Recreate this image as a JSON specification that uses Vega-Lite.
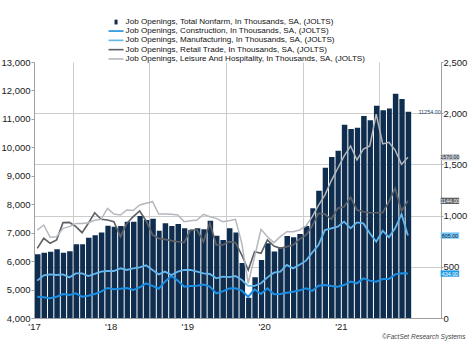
{
  "$schema": "https://vega.github.io/schema/vega-lite/v6.json",
  "width": 407,
  "height": 256,
  "autosize": {"type": "none"},
  "padding": {"left": 34, "top": 62, "right": 27, "bottom": 24},
  "background": "white",
  "data": {
    "format": {"parse": {"date": "date:'%Y-%m'"}},
    "values": [
      {"date":"2017-07","total":6240,"construction":208,"manufacturing":365,"retail":680,"leisure":859},
      {"date":"2017-08","total":6296,"construction":202,"manufacturing":417,"retail":778,"leisure":908},
      {"date":"2017-09","total":6330,"construction":192,"manufacturing":426,"retail":729,"leisure":788},
      {"date":"2017-10","total":6415,"construction":208,"manufacturing":420,"retail":762,"leisure":794},
      {"date":"2017-11","total":6296,"construction":234,"manufacturing":426,"retail":931,"leisure":876},
      {"date":"2017-12","total":6345,"construction":225,"manufacturing":397,"retail":934,"leisure":892},
      {"date":"2018-01","total":6590,"construction":241,"manufacturing":436,"retail":892,"leisure":924},
      {"date":"2018-02","total":6590,"construction":208,"manufacturing":436,"retail":833,"leisure":924},
      {"date":"2018-03","total":6825,"construction":218,"manufacturing":410,"retail":924,"leisure":931},
      {"date":"2018-04","total":6907,"construction":234,"manufacturing":430,"retail":1028,"leisure":955},
      {"date":"2018-05","total":7010,"construction":257,"manufacturing":453,"retail":964,"leisure":964},
      {"date":"2018-06","total":7245,"construction":293,"manufacturing":459,"retail":957,"leisure":1071},
      {"date":"2018-07","total":7210,"construction":280,"manufacturing":459,"retail":941,"leisure":1015},
      {"date":"2018-08","total":7230,"construction":286,"manufacturing":485,"retail":794,"leisure":1006},
      {"date":"2018-09","total":7385,"construction":293,"manufacturing":469,"retail":924,"leisure":1055},
      {"date":"2018-10","total":7385,"construction":273,"manufacturing":485,"retail":990,"leisure":1050},
      {"date":"2018-11","total":7587,"construction":300,"manufacturing":495,"retail":1045,"leisure":1104},
      {"date":"2018-12","total":7446,"construction":339,"manufacturing":514,"retail":950,"leisure":1120},
      {"date":"2019-01","total":7490,"construction":313,"manufacturing":469,"retail":811,"leisure":1136},
      {"date":"2019-02","total":7070,"construction":286,"manufacturing":426,"retail":778,"leisure":1015},
      {"date":"2019-03","total":7330,"construction":355,"manufacturing":453,"retail":768,"leisure":1015},
      {"date":"2019-04","total":7235,"construction":410,"manufacturing":420,"retail":755,"leisure":1012},
      {"date":"2019-05","total":7305,"construction":365,"manufacturing":453,"retail":745,"leisure":1006},
      {"date":"2019-06","total":7154,"construction":306,"manufacturing":469,"retail":736,"leisure":941},
      {"date":"2019-07","total":7094,"construction":313,"manufacturing":469,"retail":859,"leisure":950},
      {"date":"2019-08","total":7154,"construction":316,"manufacturing":453,"retail":859,"leisure":957},
      {"date":"2019-09","total":7120,"construction":326,"manufacturing":436,"retail":745,"leisure":1012},
      {"date":"2019-10","total":7420,"construction":306,"manufacturing":430,"retail":925,"leisure":989},
      {"date":"2019-11","total":6895,"construction":241,"manufacturing":387,"retail":713,"leisure":973},
      {"date":"2019-12","total":6740,"construction":260,"manufacturing":404,"retail":713,"leisure":941},
      {"date":"2020-01","total":7154,"construction":288,"manufacturing":400,"retail":745,"leisure":950},
      {"date":"2020-02","total":7010,"construction":290,"manufacturing":410,"retail":736,"leisure":964},
      {"date":"2020-03","total":5935,"construction":267,"manufacturing":371,"retail":615,"leisure":729},
      {"date":"2020-04","total":4714,"construction":208,"manufacturing":313,"retail":469,"leisure":339},
      {"date":"2020-05","total":5436,"construction":280,"manufacturing":313,"retail":648,"leisure":599},
      {"date":"2020-06","total":6040,"construction":234,"manufacturing":339,"retail":632,"leisure":866},
      {"date":"2020-07","total":6626,"construction":290,"manufacturing":397,"retail":762,"leisure":794},
      {"date":"2020-08","total":6338,"construction":231,"manufacturing":443,"retail":703,"leisure":736},
      {"date":"2020-09","total":6485,"construction":234,"manufacturing":453,"retail":680,"leisure":794},
      {"date":"2020-10","total":6883,"construction":247,"manufacturing":518,"retail":697,"leisure":843},
      {"date":"2020-11","total":6842,"construction":257,"manufacturing":485,"retail":713,"leisure":843},
      {"date":"2020-12","total":6954,"construction":270,"manufacturing":520,"retail":770,"leisure":860},
      {"date":"2021-01","total":7235,"construction":290,"manufacturing":560,"retail":810,"leisure":900},
      {"date":"2021-02","total":7857,"construction":265,"manufacturing":640,"retail":900,"leisure":990},
      {"date":"2021-03","total":8477,"construction":315,"manufacturing":713,"retail":1022,"leisure":1100},
      {"date":"2021-04","total":9286,"construction":322,"manufacturing":859,"retail":1015,"leisure":1200},
      {"date":"2021-05","total":9661,"construction":313,"manufacturing":876,"retail":964,"leisure":1340},
      {"date":"2021-06","total":9884,"construction":306,"manufacturing":892,"retail":1071,"leisure":1460},
      {"date":"2021-07","total":10797,"construction":322,"manufacturing":941,"retail":1087,"leisure":1580},
      {"date":"2021-08","total":10645,"construction":355,"manufacturing":876,"retail":1178,"leisure":1680},
      {"date":"2021-09","total":10692,"construction":339,"manufacturing":934,"retail":1055,"leisure":1543},
      {"date":"2021-10","total":11103,"construction":387,"manufacturing":924,"retail":1038,"leisure":1650},
      {"date":"2021-11","total":10950,"construction":365,"manufacturing":827,"retail":1028,"leisure":1680},
      {"date":"2021-12","total":11466,"construction":355,"manufacturing":745,"retail":1028,"leisure":1990},
      {"date":"2022-01","total":11302,"construction":381,"manufacturing":853,"retail":1028,"leisure":1700},
      {"date":"2022-02","total":11361,"construction":381,"manufacturing":788,"retail":1136,"leisure":1715},
      {"date":"2022-03","total":11888,"construction":426,"manufacturing":876,"retail":1266,"leisure":1640},
      {"date":"2022-04","total":11700,"construction":436,"manufacturing":1015,"retail":1045,"leisure":1500},
      {"date":"2022-05","total":11254,"construction":434,"manufacturing":805,"retail":1144,"leisure":1570}
    ]
  },
  "layer": [
    {
      "mark": {"type": "bar", "timeUnitBandSize": 0.86, "color": "#0f2e4f", "clip": true},
      "encoding": {
        "x": {"field": "date", "timeUnit": "yearmonth", "type": "temporal",
              "scale": {"domain": [{"year": 2017, "month": 7, "date": 1}, {"year": 2022, "month": 10, "date": 21}]},
              "axis": {"orient": "top", "values": [{"year": 2018, "month": 1, "date": 1}, {"year": 2019, "month": 1, "date": 1}, {"year": 2020, "month": 1, "date": 1}, {"year": 2021, "month": 1, "date": 1}, {"year": 2022, "month": 1, "date": 1}],
                       "grid": true, "labels": false, "ticks": false, "domain": false, "title": null}},
        "y": {"field": "total", "type": "quantitative", "scale": {"domain": [4000, 13000], "zero": false, "nice": false},
              "axis": {"orient": "left", "values": [4000, 5000, 6000, 7000, 8000, 9000, 10000, 11000, 12000, 13000], "format": ",.0f", "grid": false, "tickSize": 3, "labelPadding": 1, "labelOverlap": false, "title": null}},
        "color": {"datum": "Job Openings, Total Nonfarm, In Thousands, SA, (JOLTS)", "type": "nominal", "scale": {"range": ["#0f2e4f"]},
                  "legend": {"orient": "none", "legendX": 78, "legendY": -44, "title": null, "symbolType": "M-0.5,-0.8H0.5V0.8H-0.5Z", "symbolSize": 36, "labelFontSize": 8.1, "labelOffset": 5.5, "padding": 0, "labelLimit": 400, "labelColor": "#111111"}}
      }
    },
    {
      "transform": [{"filter": {"field": "date", "timeUnit": "yearmonth", "equal": {"year": 2022, "month": 5}}}],
      "mark": {"type": "text", "align": "right", "baseline": "middle", "dx": 33, "fontSize": 5.5, "color": "#27466b"},
      "encoding": {
        "x": {"field": "date", "timeUnit": "yearmonth", "type": "temporal", "bandPosition": 0.5,
              "scale": {"domain": [{"year": 2017, "month": 7, "date": 1}, {"year": 2022, "month": 10, "date": 21}]}, "axis": null},
        "y": {"field": "total", "type": "quantitative", "scale": {"domain": [4000, 13000], "zero": false, "nice": false}, "axis": null},
        "text": {"field": "total", "type": "quantitative", "format": ".2f"}
      }
    },
    {
      "transform": [{"fold": ["construction", "manufacturing", "retail", "leisure"], "as": ["series", "val"]}],
      "mark": {"type": "line"},
      "encoding": {
        "x": {"field": "date", "timeUnit": "yearmonth", "type": "temporal", "bandPosition": 0.5,
              "scale": {"domain": [{"year": 2017, "month": 7, "date": 1}, {"year": 2022, "month": 10, "date": 21}]},
              "axis": {"orient": "bottom", "zindex": 2, "values": [{"year": 2017, "month": 7, "date": 1}, {"year": 2018, "month": 7, "date": 1}, {"year": 2019, "month": 7, "date": 1}, {"year": 2020, "month": 7, "date": 1}, {"year": 2021, "month": 7, "date": 1}],
                       "labelExpr": "\"'\" + timeFormat(datum.value, '%y')", "grid": false, "ticks": false, "labelPadding": 3, "labelOverlap": false, "labelFlush": false, "labelBound": false, "domain": true,
                       "title": "©FactSet Research Systems", "titleAnchor": "end", "titleAlign": "right", "titleX": 431, "titleY": 20, "titleBaseline": "alphabetic",
                       "titleFontSize": 6.5, "titleFontStyle": "italic", "titleFontWeight": "normal", "titleColor": "#444444", "titleFont": "Liberation Sans"}},
        "y": {"field": "val", "type": "quantitative", "scale": {"domain": [0, 2500], "nice": false},
              "axis": {"orient": "right", "values": [0, 500, 1000, 1500, 2000, 2500], "format": ",.0f", "grid": true,
                       "gridOpacity": {"condition": {"test": "datum.value >= 2500 || datum.value <= 0", "value": 0}, "value": 1},
                       "tickSize": 2, "labelPadding": 0, "labelOverlap": false, "title": null}},
        "color": {"field": "series", "type": "nominal",
                  "scale": {"domain": ["construction", "manufacturing", "retail", "leisure"], "range": ["#1a8fe3", "#63b6ee", "#5d6166", "#b4b8bd"]},
                  "legend": {"orient": "none", "legendX": 78, "legendY": -35, "title": null, "symbolType": "M-2.5,0H2.5", "symbolSize": 36, "symbolStrokeWidth": 1.6,
                             "labelFontSize": 8.1, "labelOffset": 5.5, "rowPadding": 0.3, "padding": 0, "labelLimit": 400, "labelColor": "#111111",
                             "labelExpr": "datum.label == 'construction' ? 'Job Openings, Construction, In Thousands, SA, (JOLTS)' : datum.label == 'manufacturing' ? 'Job Openings, Manufacturing, In Thousands, SA, (JOLTS)' : datum.label == 'retail' ? 'Job Openings, Retail Trade, In Thousands, SA, (JOLTS)' : 'Job Openings, Leisure And Hospitality, In Thousands, SA, (JOLTS)'"}},
        "strokeWidth": {"field": "series", "type": "nominal", "scale": {"domain": ["construction", "manufacturing", "retail", "leisure"], "range": [2, 1.5, 1.3, 1.3]}, "legend": null}
      }
    },
    {
      "transform": [{"fold": ["construction", "manufacturing", "retail", "leisure"], "as": ["series", "val"]}, {"filter": {"field": "date", "timeUnit": "yearmonth", "equal": {"year": 2022, "month": 5}}}],
      "mark": {"type": "point", "shape": "M-1,-0.34H1V0.34H-1Z", "size": 342, "filled": true, "opacity": 1, "strokeWidth": 0, "xOffset": 42},
      "encoding": {
        "x": {"field": "date", "timeUnit": "yearmonth", "type": "temporal", "bandPosition": 0.5,
              "scale": {"domain": [{"year": 2017, "month": 7, "date": 1}, {"year": 2022, "month": 10, "date": 21}]}, "axis": null},
        "y": {"field": "val", "type": "quantitative", "scale": {"domain": [0, 2500], "nice": false}, "axis": null},
        "fill": {"field": "series", "type": "nominal", "scale": {"domain": ["construction", "manufacturing", "retail", "leisure"], "range": ["#1e9be8", "#74c4f5", "#5d6166", "#c2c5c9"]}, "legend": null}
      }
    },
    {
      "transform": [{"fold": ["construction", "manufacturing", "retail", "leisure"], "as": ["series", "val"]}, {"filter": {"field": "date", "timeUnit": "yearmonth", "equal": {"year": 2022, "month": 5}}}],
      "mark": {"type": "text", "fontSize": 5.3, "xOffset": 42, "align": "center", "baseline": "middle"},
      "encoding": {
        "x": {"field": "date", "timeUnit": "yearmonth", "type": "temporal", "bandPosition": 0.5,
              "scale": {"domain": [{"year": 2017, "month": 7, "date": 1}, {"year": 2022, "month": 10, "date": 21}]}, "axis": null},
        "y": {"field": "val", "type": "quantitative", "scale": {"domain": [0, 2500], "nice": false}, "axis": null},
        "text": {"field": "val", "type": "quantitative", "format": ".2f"},
        "color": {"condition": {"test": "datum.series == 'construction' || datum.series == 'retail'", "value": "#ffffff"}, "value": "#1a2a3a"}
      }
    }
  ],
  "resolve": {"scale": {"x": "independent", "y": "independent", "color": "independent"}, "axis": {"x": "independent", "y": "independent"}, "legend": {"color": "independent"}},
  "config": {
    "view": {"stroke": null},
    "font": "Liberation Sans",
    "axis": {"labelFont": "Liberation Sans", "labelFontSize": 9.5, "labelColor": "#1a1a1a", "domainColor": "#a0a0a0", "tickColor": "#a0a0a0", "gridColor": "#cccccc", "gridWidth": 1},
    "legend": {"labelFont": "Liberation Sans"}
  }
}
